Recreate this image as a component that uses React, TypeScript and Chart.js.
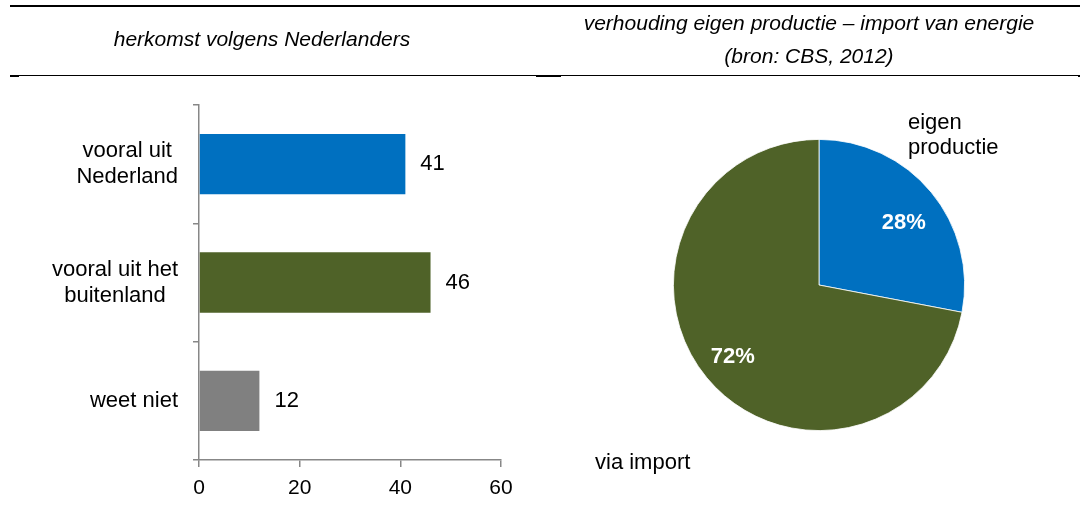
import React, { useEffect, useRef } from "react";
import { Chart, registerables } from "chart.js";

Chart.register(...registerables);

const FONT = '"Liberation Sans", Arial, Helvetica, sans-serif';

// ---- data: left bar chart ----
const barCategories: string[][] = [
  ["vooral uit", "Nederland"],
  ["vooral uit het", "buitenland"],
  ["weet niet"],
];
const barValues = [41, 46, 12];
const barColors = ["#0070C0", "#4F6228", "#808080"];
const xTickValues = [0, 20, 40, 60];

// ---- data: right pie chart ----
const pieCategories: string[][] = [["eigen", "productie"], ["via import"]];
const pieValues = [28, 72];
const pieColors = ["#0070C0", "#4F6228"];

// ---- titles ----
const leftTitle = "herkomst volgens Nederlanders";
const rightTitle = ["verhouding eigen productie – import van energie", "(bron: CBS, 2012)"];

const AXIS = "#878787";

const barLabelPlugin = {
  id: "barLabels",
  afterDraw(chart: any) {
    const ctx = chart.ctx;
    const yScale = chart.scales.y;
    const meta = chart.getDatasetMeta(0);
    ctx.save();
    ctx.font = `22px ${FONT}`;
    ctx.fillStyle = "#000";
    ctx.textBaseline = "middle";
    barCategories.forEach((lines, i) => {
      const y = yScale.getPixelForValue(i);
      const w = Math.max(...lines.map((l) => ctx.measureText(l).width));
      const cx = chart.chartArea.left - 21 - w / 2;
      ctx.textAlign = "center";
      lines.forEach((l, j) => {
        ctx.fillText(l, cx, y + (j - (lines.length - 1) / 2) * 26);
      });
    });
    ctx.textAlign = "left";
    meta.data.forEach((bar: any, i: number) => {
      ctx.fillText(String(barValues[i]), bar.x + 15, bar.y);
    });
    ctx.restore();
  },
};

const pieLabelPlugin = {
  id: "pieLabels",
  afterDraw(chart: any) {
    const ctx = chart.ctx;
    const meta = chart.getDatasetMeta(0);
    const total = pieValues.reduce((a, b) => a + b, 0);
    ctx.save();
    ctx.textBaseline = "middle";
    ctx.textAlign = "center";
    ctx.font = `bold 22px ${FONT}`;
    ctx.fillStyle = "#fff";
    meta.data.forEach((arc: any, i: number) => {
      const p = arc.getProps(["startAngle", "endAngle", "outerRadius", "x", "y"]);
      const mid = (p.startAngle + p.endAngle) / 2;
      const r = p.outerRadius * (i === 0 ? 0.72 : 0.76);
      const pct = Math.round((pieValues[i] / total) * 100) + "%";
      ctx.fillText(pct, p.x + r * Math.cos(mid) + (i === 0 ? 4 : -1), p.y + r * Math.sin(mid) + (i === 0 ? 5 : 1));
    });
    const c = meta.data[0];
    ctx.font = `22px ${FONT}`;
    ctx.fillStyle = "#000";
    ctx.textAlign = "left";
    const anchors = [
      { dx: 89, dy: -162 },
      { dx: -224, dy: 178 },
    ];
    pieCategories.forEach((lines, i) => {
      lines.forEach((l, j) => {
        ctx.fillText(l, c.x + anchors[i].dx, c.y + anchors[i].dy + j * 25);
      });
    });
    ctx.restore();
  },
};

export default function App() {
  const barRef = useRef<HTMLCanvasElement>(null);
  const pieRef = useRef<HTMLCanvasElement>(null);

  useEffect(() => {
    const bar = new Chart(barRef.current as HTMLCanvasElement, {
      type: "bar",
      data: {
        labels: barCategories.map((l) => l.join(" ")),
        datasets: [
          {
            data: barValues,
            backgroundColor: barColors,
            barPercentage: 0.51,
            categoryPercentage: 1,
          },
        ],
      },
      options: {
        indexAxis: "y",
        responsive: false,
        animation: false,
        devicePixelRatio: 1,
        layout: { padding: { top: 105, right: 39, left: 0, bottom: 0 } },
        plugins: { legend: { display: false }, tooltip: { enabled: false } },
        scales: {
          x: {
            min: 0,
            max: 60,
            afterBuildTicks: (s: any) => {
              s.ticks = xTickValues.map((v) => ({ value: v }));
            },
            border: { color: AXIS, width: 1.5 },
            grid: { drawOnChartArea: false, tickLength: 7, color: AXIS, lineWidth: 1.5 },
            ticks: { font: { family: FONT, size: 21 }, color: "#000", padding: 9 },
            afterFit: (s: any) => {
              s.height = 67;
              s.paddingLeft = 0;
              s.paddingRight = 0;
            },
          },
          y: {
            border: { color: AXIS, width: 1.5 },
            grid: { drawOnChartArea: false, tickLength: 6, color: AXIS, offset: true, lineWidth: 1.5 },
            ticks: { display: false },
            afterFit: (s: any) => {
              s.width = 199;
              s.paddingTop = 0;
              s.paddingBottom = 0;
            },
          },
        },
      } as any,
      plugins: [barLabelPlugin],
    });

    const pie = new Chart(pieRef.current as HTMLCanvasElement, {
      type: "pie",
      data: {
        labels: pieCategories.map((l) => l.join(" ")),
        datasets: [
          {
            data: pieValues,
            backgroundColor: pieColors,
            borderColor: "#ffffff",
            borderWidth: 0.8,
          },
        ],
      },
      options: {
        responsive: false,
        animation: false,
        devicePixelRatio: 1,
        layout: { padding: { left: 133, right: 115, top: 139, bottom: 96 } },
        plugins: { legend: { display: false }, tooltip: { enabled: false } },
      } as any,
      plugins: [pieLabelPlugin],
    });

    return () => {
      bar.destroy();
      pie.destroy();
    };
  }, []);

  const titleStyle: React.CSSProperties = {
    position: "absolute",
    fontFamily: FONT,
    fontStyle: "italic",
    fontSize: 21,
    lineHeight: "33px",
    color: "#000",
    textAlign: "center",
    whiteSpace: "nowrap",
  };
  const line = (left: number, top: number, width: number, height: number): React.CSSProperties => ({
    position: "absolute",
    left,
    top,
    width,
    height,
    background: "#000",
  });

  return (
    <div style={{ position: "absolute", left: 0, top: 0, width: 1080, height: 527, background: "#fff", overflow: "hidden" }}>
      <canvas ref={barRef} width={540} height={527} style={{ position: "absolute", left: 0, top: 0, width: 540, height: 527 }} />
      <canvas ref={pieRef} width={540} height={527} style={{ position: "absolute", left: 540, top: 0, width: 540, height: 527 }} />
      <div style={line(10, 5, 1070, 2)} />
      <div style={line(10, 75, 1070, 1)} />
      <div style={line(10, 75, 9, 2)} />
      <div style={line(536, 75, 25, 2)} />
      <div style={line(1078, 75, 2, 2)} />
      <div style={{ ...titleStyle, left: 0, width: 524, top: 21.5 }}>{leftTitle}</div>
      <div style={{ ...titleStyle, left: 540, width: 538, top: 5.5 }}>
        {rightTitle.map((t, i) => (
          <div key={i}>{t}</div>
        ))}
      </div>
    </div>
  );
}
